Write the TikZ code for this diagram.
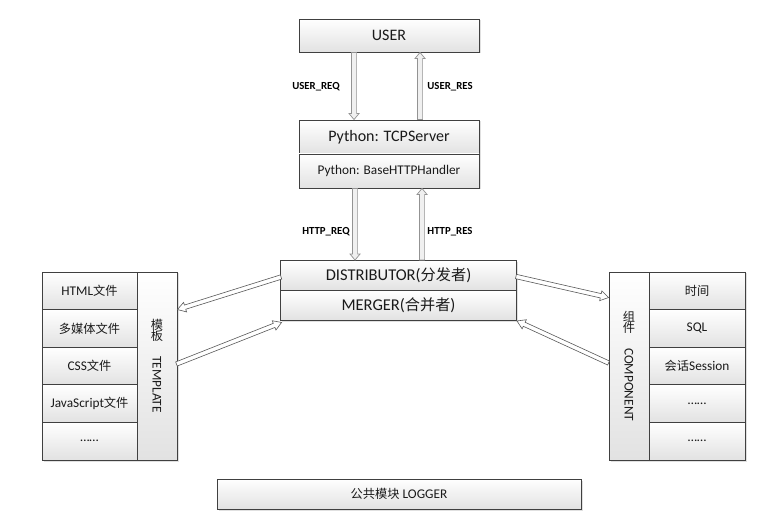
\documentclass[tikz,border=0pt]{standalone}
\usepackage{fontspec}
\usepackage{graphicx}
\setmainfont{Carlito}
\newfontfamily\cjk[Scale=0.92]{Noto Sans CJK SC}
\usetikzlibrary{calc,shadows}
\definecolor{boxline}{HTML}{404040}
\definecolor{boxbot}{HTML}{E2E2E2}
\definecolor{txt}{HTML}{1A1A1A}
\tikzset{
  box/.style={draw=boxline, line width=0.9pt, top color=white, bottom color=boxbot,
    inner sep=0pt, text=txt,
    drop shadow={shadow xshift=1.5pt, shadow yshift=-1.5pt, fill=black, opacity=0.12}},
  bigtxt/.style={font=\fontsize{16}{18}\selectfont},
  midtxt/.style={font=\fontsize{13.3}{15}\selectfont},
  lbl/.style={font=\fontsize{10.8}{12}\selectfont\bfseries, text=black, inner sep=0pt},
  varrow/.style={draw=gray!85, fill=gray!12, line width=0.7pt},
  darrow/.style={draw=gray!70!black, fill=white, line width=0.6pt},
}
% #1 style, #2 from, #3 to, #4 shaft half width, #5 head half width, #6 head length
\newcommand\blockarrow[6][]{%
  \coordinate (bacut) at ($(#3)!#6!(#2)$);
  \draw[#1] ($(#2)!#4!90:(#3)$) -- ($(bacut)!#4!90:(#3)$) -- ($(bacut)!#5!90:(#3)$)
    -- (#3) -- ($(bacut)!#5!-90:(#3)$) -- ($(bacut)!#4!-90:(#3)$)
    -- ($(#2)!#4!-90:(#3)$) -- cycle;
}
\begin{document}
\begin{tikzpicture}[x=1pt,y=-1pt]
\useasboundingbox[fill=white] (0,0) rectangle (781,526);

% top
\node[box,bigtxt,minimum width=180pt,minimum height=33pt] (user) at (389,35.5) {USER};
\node[box,bigtxt,minimum width=180pt,minimum height=34pt] (tcp) at (389,137) {Python: TCPServer};
\node[box,midtxt,minimum width=180pt,minimum height=34pt] (handler) at (389,171) {Python: BaseHTTPHandler};

% centre
\node[box,font=\fontsize{16.5}{18}\selectfont,minimum width=236pt,minimum height=30pt] (dist) at (398.5,275.5) {DISTRIBUTOR({\cjk 分发者})};
\node[box,font=\fontsize{16.5}{18}\selectfont,minimum width=236pt,minimum height=30pt] (merger) at (398.5,305.5) {MERGER({\cjk 合并者})};

% left: template
\node[box,midtxt,minimum width=95pt,minimum height=37.6pt] (h1) at (89.5,290.8) {HTML{\cjk 文件}};
\node[box,midtxt,minimum width=95pt,minimum height=37.6pt] (h2) at (89.5,328.4) {\cjk 多媒体文件};
\node[box,midtxt,minimum width=95pt,minimum height=37.6pt] (h3) at (89.5,366.0) {CSS{\cjk 文件}};
\node[box,midtxt,minimum width=95pt,minimum height=37.6pt] (h4) at (89.5,403.6) {JavaScript{\cjk 文件}};
\node[box,midtxt,minimum width=95pt,minimum height=37.6pt] (h5) at (89.5,441.2) {……};
\node[box,midtxt,align=center,minimum width=40pt,minimum height=188pt] (tmpl) at (157,366)
  {{\cjk 模}\\[-4pt]{\cjk 板}\\[1pt]\rotatebox{-90}{TEMPLATE}};

% right: component
\node[box,midtxt,align=center,minimum width=40pt,minimum height=188pt] (comp) at (629,366)
  {{\cjk 组}\\[-4pt]{\cjk 件}\\[1pt]\rotatebox{-90}{COMPONENT}};
\node[box,midtxt,minimum width=96pt,minimum height=37.6pt] (c1) at (697,290.8) {\cjk 时间};
\node[box,midtxt,minimum width=96pt,minimum height=37.6pt] (c2) at (697,328.4) {SQL};
\node[box,midtxt,minimum width=96pt,minimum height=37.6pt] (c3) at (697,366.0) {{\cjk 会话}Session};
\node[box,midtxt,minimum width=96pt,minimum height=37.6pt] (c4) at (697,403.6) {……};
\node[box,midtxt,minimum width=96pt,minimum height=37.6pt] (c5) at (697,441.2) {……};

% logger
\node[box,midtxt,minimum width=364pt,minimum height=30pt] (logger) at (399,494) {{\cjk 公共模块} LOGGER};

% vertical arrows
\coordinate (ureqA) at ($(user.south)+(-35,0)$);
\coordinate (ureqB) at (ureqA |- tcp.north);
\coordinate (uresA) at ($(tcp.north)+(31,0)$);
\coordinate (uresB) at (uresA |- user.south);
\coordinate (hreqA) at ($(handler.south)+(-34,0)$);
\coordinate (hreqB) at (hreqA |- dist.north);
\coordinate (hresA) at ($(dist.north)+(23.5,0)$);
\coordinate (hresB) at (hresA |- handler.south);
\blockarrow[varrow]{ureqA}{ureqB}{2.6pt}{5pt}{6pt}
\blockarrow[varrow]{uresA}{uresB}{2.6pt}{5pt}{6pt}
\blockarrow[varrow]{hreqA}{hreqB}{2.6pt}{5pt}{6pt}
\blockarrow[varrow]{hresA}{hresB}{2.6pt}{5pt}{6pt}

\node[lbl] (l1) at (316,87) {USER\_REQ};
\node[lbl] (l2) at (450,87) {USER\_RES};
\node[lbl] (l3) at (326,232) {HTTP\_REQ};
\node[lbl] (l4) at (450,232) {HTTP\_RES};

% diagonal arrows
\coordinate (dl1) at ($(dist.west)+(1,1.5)$);
\coordinate (dl2) at ($(tmpl.north east)+(0,38)$);
\coordinate (ml1) at ($(tmpl.east)+(-1,-2)$);
\coordinate (ml2) at ($(merger.south west)+(1.5,1.5)$);
\coordinate (dr1) at ($(dist.east)+(-1,1)$);
\coordinate (dr2) at ($(comp.north west)+(0,26)$);
\coordinate (mr1) at ($(comp.west)+(0,-3)$);
\coordinate (mr2) at ($(merger.south east)+(0,0)$);
\blockarrow[darrow]{dl1}{dl2}{2.2pt}{5pt}{8pt}
\blockarrow[darrow]{ml1}{ml2}{2.2pt}{5pt}{8pt}
\blockarrow[darrow]{dr1}{dr2}{2.2pt}{5pt}{8pt}
\blockarrow[darrow]{mr1}{mr2}{2.2pt}{5pt}{8pt}
\end{tikzpicture}
\end{document}
